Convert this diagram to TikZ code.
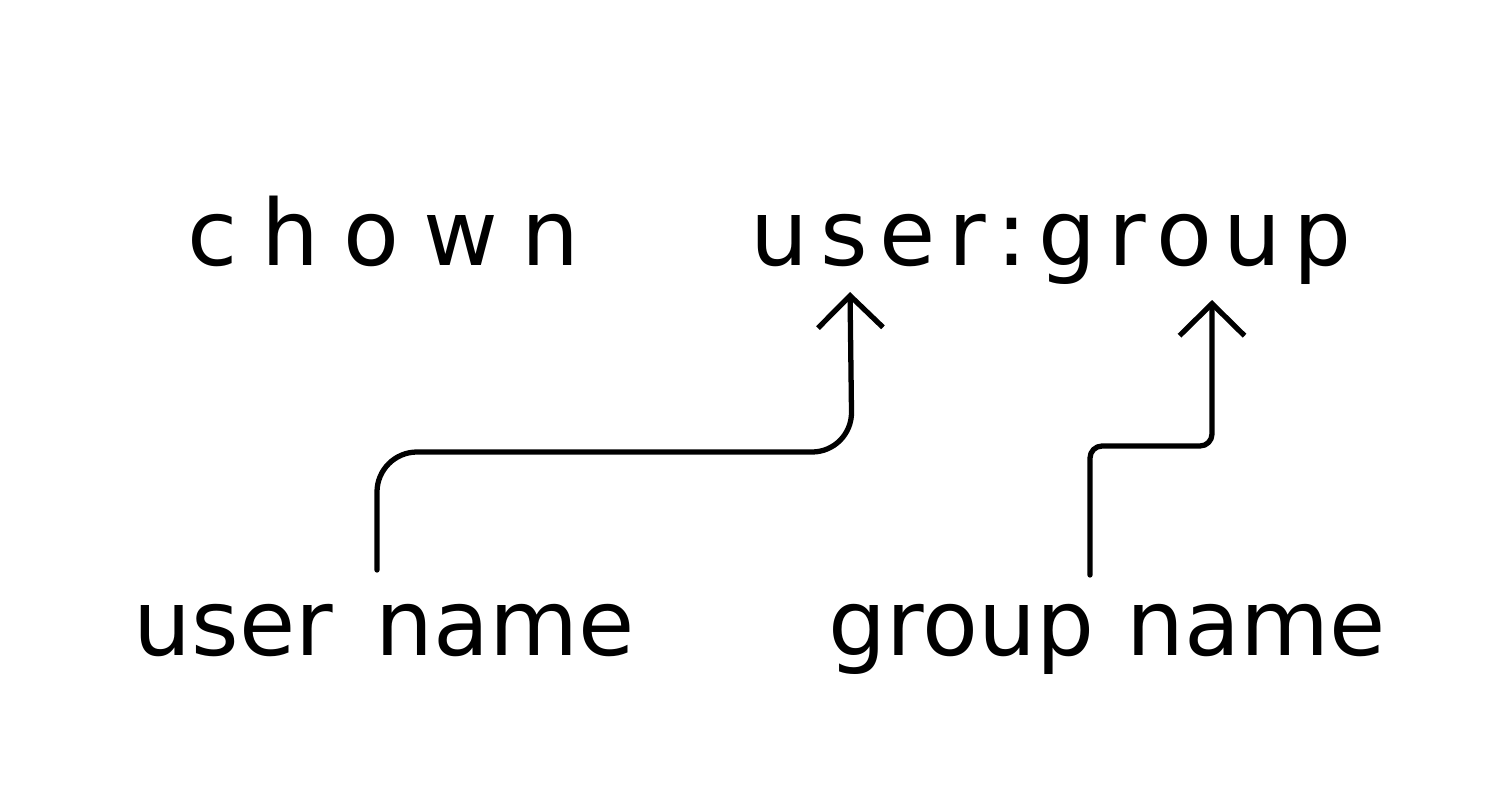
\documentclass[tikz,border=0pt]{standalone}
\usepackage{fontspec}
\setmainfont{DejaVu Sans}
\usetikzlibrary{arrows.meta}
\begin{document}
\begin{tikzpicture}[x=0.01cm,y=-0.01cm,
  word/.style={anchor=base west,inner sep=0pt,font=\fontsize{26}{30}\selectfont},
  pointer/.style={line width=1.5pt,line cap=round,line join=round,
    -{Straight Barb[length=3.2mm,width=6.5mm,line width=1.5pt]}}]
\useasboundingbox[fill=white] (0,0) rectangle (1500,800);
% command line
\node[word] (cmd) at (187,265) {\addfontfeature{LetterSpace=26}chown};
\node[word] (arg) at (750,265) {\addfontfeature{LetterSpace=13}user:group};
% labels
\node[word] (uname) at (133,655) {user\hskip 0.42cm name};
\node[word] (gname) at (828,655) {group\hskip 0.32cm name};
% connector ends
\coordinate (u0) at (377,570);
\coordinate (u1) at (850,292);
\coordinate (g0) at (1090,575);
\coordinate (g1) at (1212,300);
\draw[pointer,rounded corners=4mm] (u0) |- (852,452) -- (u1);
\draw[pointer,rounded corners=1.2mm] (g0) |- (1212,446) -- (g1);
\end{tikzpicture}
\end{document}
